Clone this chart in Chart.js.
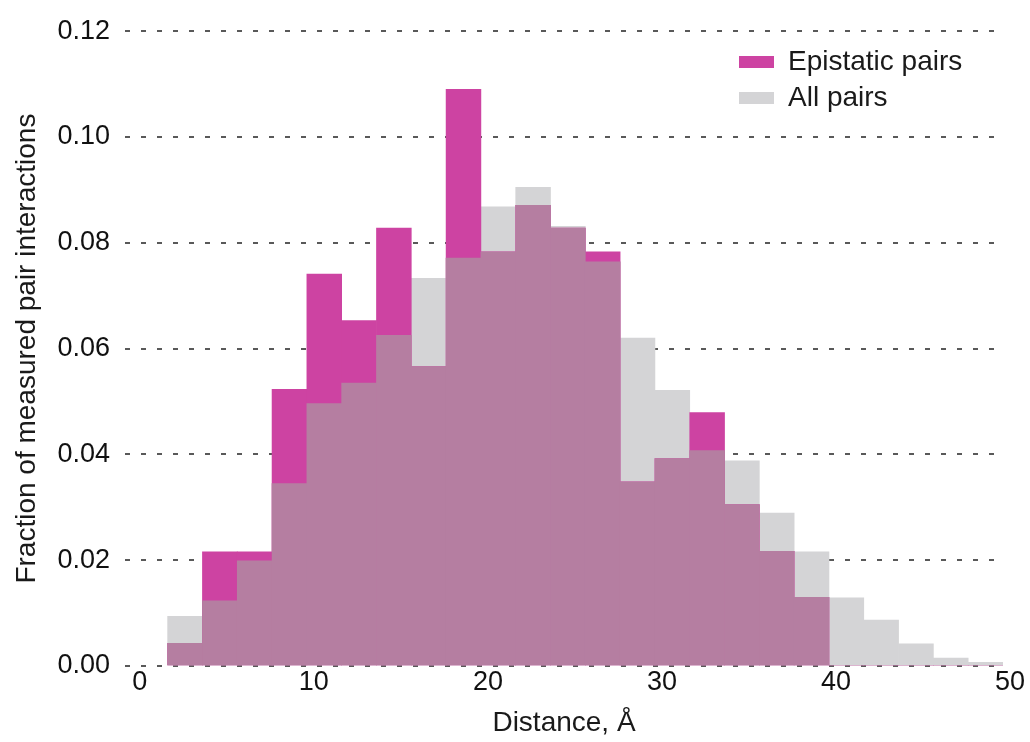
<!DOCTYPE html>
<html>
<head>
<meta charset="utf-8">
<script src="https://cdn.jsdelivr.net/npm/chart.js@4.4.1/dist/chart.umd.min.js"></script>
<style>
  html, body { margin: 0; padding: 0; background: #fff; }
  #wrap { width: 1030px; height: 742px; }
</style>
</head>
<body>
<div id="wrap"><canvas id="chart" width="1030" height="742"></canvas></div>
<script>
// Histogram bins of width 2 Å, centre of each bin
const binCenters = [3, 5, 7, 9, 11, 13, 15, 17, 19, 21, 23, 25,
                    27, 29, 31, 33, 35, 37, 39, 41, 43, 45, 47, 49];
const epistatic = [0.0043, 0.0216, 0.0216, 0.0523, 0.0741, 0.0653, 0.0828, 0.0566,
                   0.1090, 0.0783, 0.0871, 0.0828, 0.0783, 0.0348, 0.0392, 0.0479,
                   0.0305, 0.0217, 0.0130, 0, 0, 0, 0, 0];
const allPairs = [0.0094, 0.0123, 0.0199, 0.0345, 0.0496, 0.0535, 0.0625, 0.0733,
                  0.0771, 0.0868, 0.0905, 0.0831, 0.0764, 0.0620, 0.0521, 0.0407,
                  0.0388, 0.0289, 0.0216, 0.0129, 0.0087, 0.0042, 0.0015, 0.0007];
const xTicks = [0, 10, 20, 30, 40, 50];
const yTicks = [0, 0.02, 0.04, 0.06, 0.08, 0.10, 0.12];

const EPI = "#cd43a2";
const ALL = "#d4d4d6";
const BOTH = "#b57ea1";
const FONT = "'Liberation Sans', Arial, sans-serif";

const pts = (vals) => binCenters.map((x, i) => ({ x: x, y: vals[i] }));
// where the two histograms overlap the bars show a mixed colour
const overlap = epistatic.map((v, i) => Math.min(v, allPairs[i]));

// put the legend at the top right, inside the plot
const legendSpot = {
  id: "legendSpot",
  afterLayout(chart) {
    const lg = chart.legend;
    const w = lg.width;
    lg.left = 731;
    lg.right = lg.left + w;
    lg.top = 40;
  },
};

new Chart(document.getElementById("chart"), {
  type: "bar",
  data: {
    datasets: [
      { label: "Epistatic pairs", data: pts(epistatic), backgroundColor: EPI, order: 1 },
      { label: "All pairs", data: pts(allPairs), backgroundColor: ALL, order: 2 },
      { label: "overlap", data: pts(overlap), backgroundColor: BOTH, order: 0 },
    ],
  },
  options: {
    responsive: false,
    animation: false,
    grouped: false,
    barPercentage: 1,
    categoryPercentage: 1,
    borderWidth: 0,
    layout: { padding: { left: 10, top: 27, right: 27, bottom: 0 } },
    plugins: {
      tooltip: { enabled: false },
      legend: {
        position: "chartArea",
        align: "start",
        labels: {
          boxWidth: 35,
          boxHeight: 12,
          padding: 8,
          color: "#1a1a1a",
          font: { family: FONT, size: 28 },
          filter: (item) => item.text !== "overlap",
        },
      },
    },
    scales: {
      x: {
        type: "linear",
        offset: false,
        min: -0.45,
        max: 50,
        afterBuildTicks: (axis) => { axis.ticks = xTicks.map((v) => ({ value: v })); },
        afterFit: (axis) => { axis.height = 76; },
        border: { display: false },
        grid: { display: false, drawTicks: false },
        ticks: {
          padding: 0,
          labelOffset: 7,
          color: "#111",
          font: { family: FONT, size: 27 },
          maxRotation: 0,
        },
        title: {
          display: true,
          text: "Distance, Å",
          color: "#1a1a1a",
          font: { family: FONT, size: 28 },
          padding: { top: 0, bottom: 2 },
        },
      },
      y: {
        min: 0,
        max: 0.12,
        z: 1,
        afterBuildTicks: (axis) => { axis.ticks = yTicks.map((v) => ({ value: v })); },
        afterFit: (axis) => { axis.width = 115; },
        // in Chart.js v4 the dash of the grid lines lives under border
        border: { display: false, dash: [5, 11] },
        grid: {
          color: "rgba(60,60,60,0.85)",
          lineWidth: 2,
          drawTicks: false,
        },
        ticks: {
          padding: 15,
          color: "#111",
          font: { family: FONT, size: 27 },
          callback: (v) => Number(v).toFixed(2),
        },
        title: {
          display: true,
          text: "Fraction of measured pair interactions",
          color: "#1a1a1a",
          font: { family: FONT, size: 28 },
          padding: { top: 0, bottom: 0 },
        },
      },
    },
  },
  plugins: [legendSpot],
});
</script>
</body>
</html>
